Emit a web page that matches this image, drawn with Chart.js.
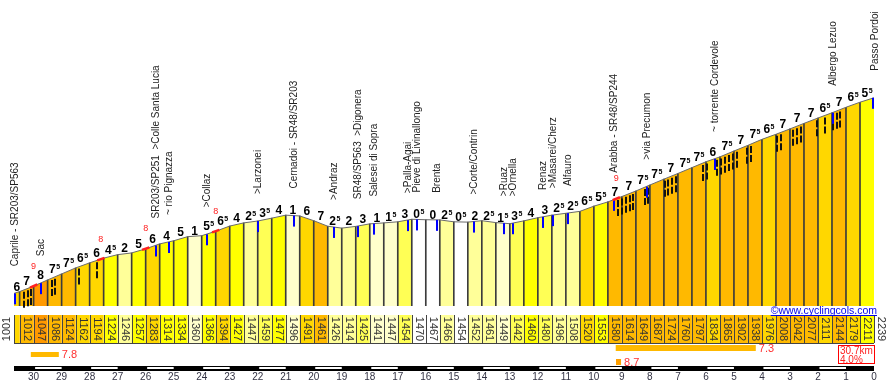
<!DOCTYPE html>
<html>
<head>
<meta charset="utf-8">
<script src="https://cdn.jsdelivr.net/npm/chart.js@4/dist/chart.umd.min.js"></script>
<style>
html,body{margin:0;padding:0;background:#fff;}
canvas{display:block;}
</style>
</head>
<body>
<canvas id="profile" width="889" height="383"></canvas>
<script>
// Caprile -> Passo Pordoi, km counted down to the top
const kmLeft=[30.7,30.5,30,29.5,29,28.5,28,27.5,27,26.5,26,25.5,25,24.5,24,23.5,23,22.5,22,21.5,21,20.5,20,19.5,19,18.5,18,17.5,17,16.5,16,15.5,15,14.5,14,13.5,13,12.5,12,11.5,11,10.5,10,9.5,9,8.5,8,7.5,7,6.5,6,5.5,5,4.5,4,3.5,3,2.5,2,1.5,1,0.5,0];
const altitudes=[1001,1012,1047,1086,1124,1162,1194,1224,1246,1257,1283,1314,1334,1360,1366,1394,1427,1447,1459,1477,1496,1491,1461,1426,1414,1425,1441,1447,1454,1470,1467,1466,1454,1452,1461,1449,1442,1460,1480,1496,1508,1520,1553,1580,1614,1649,1687,1724,1760,1797,1834,1865,1902,1938,1976,2008,2042,2077,2111,2144,2179,2211,2239];
// gradient shown above each stretch (x.5 drawn as small 5)
const grades=[6,7,8,7.5,7.5,6.5,6,4.5,2,5,6,4,5,1,5.5,6.5,4,2.5,3.5,4,1,6,7,2.5,2,3,1,1.5,3,0.5,0,2.5,0.5,2,2.5,1.5,3.5,4,3,2.5,2.5,6.5,5.5,7,7,7.5,7.5,7,7.5,7.5,6,7.5,7,7.5,6.5,7,7,7,6.5,7,6.5,5.5];

const placeNames=['Caprile - SR203/SP563','Sac','SR203/SP251  >Colle Santa Lucia','~ rio Pignazza','>Collaz','>Larzonei','Cernadoi - SR48/SR203','>Andraz','SR48/SP563  >Digonera','Salesei di Sopra','>Palla-Agai','Pieve di Livinallongo','Brenta','>Corte/Contrin','>Ruaz','>Ornella','Renaz','>Masarei/Cherz','Alfauro','Arabba - SR48/SP244','>via Precumon','~ torrente Cordevole','Albergo Lezuo','Passo Pordoi'];
const placeKm=[30.7,29.76,25.66,25.2,23.84,22.02,20.74,19.31,18.45,17.88,16.67,16.35,15.63,14.31,13.24,12.92,11.85,11.49,10.96,9.31,8.14,5.71,1.5,0];

const hairpinKm=[30.33,30.19,30.09,29.34,29.23,28.37,27.73,9.14,9.0,8.85,8.71,8.6,8.17,8.07,7.46,7.35,7.21,7.07,6.1,5.96,5.6,5.46,5.32,5.17,5.03,4.89,4.53,4.39,3.46,3.32,2.89,2.75,2.6,2.03,1.75,1.46,1.32,1.21];
const steepKm=[30.0,27.6,26.0,23.5,9.2];
const steepPct=[9,8,8,8,9];

// steepest 1km / 5km / 200m
const bestFrom=[30.1,9.22,9.21];
const bestTo=[29.1,4.22,9.03];
const bestPct=[7.8,7.3,8.7];

const totalKm=30.7, avgPct=4.0;
const kmTicks=[30,29,28,27,26,25,24,23,22,21,20,19,18,17,16,15,14,13,12,11,10,9,8,7,6,5,4,3,2,1,0];

const FONT='"Liberation Sans", Arial, sans-serif';

const gradeColor=g=>g>=8?'#ff9900':g>=7?'#ffb900':g>=6?'#ffd700':g>=4?'#ffff00':g>=3?'#ffff55':g>=2?'#ffff99':g>=1?'#ffffcc':'#ffffff';

const altAt=km=>{
    for(let i=0;i<kmLeft.length-1;i++){
        if(km<=kmLeft[i]&&km>=kmLeft[i+1]){
            const t=(kmLeft[i]-km)/(kmLeft[i]-kmLeft[i+1]);
            return altitudes[i]+t*(altitudes[i+1]-altitudes[i]);
        }
    }
    return altitudes[altitudes.length-1];
};

const profileExtras={
    id:'profileExtras',
    afterDatasetsDraw(chart){
        const {ctx,scales:{x,y}}=chart;
        const px=km=>x.getPixelForValue(km), py=a=>y.getPixelForValue(a);
        ctx.save();

        // hairpins
        ctx.strokeStyle='#111';ctx.lineWidth=2;ctx.setLineDash([7,2]);
        hairpinKm.forEach(k=>{
            const xx=Math.round(px(k)), top=py(altAt(k));
            ctx.beginPath();ctx.moveTo(xx,top+2);ctx.lineTo(xx,top+20);ctx.stroke();
        });
        ctx.setLineDash([]);

        // places: blue mark + vertical name
        placeNames.forEach((name,i)=>{
            const k=placeKm[i], xx=Math.min(Math.round(px(k))+1,873), top=py(altAt(k));
            ctx.fillStyle='#0000ff';
            ctx.fillRect(xx-1,top,2,11);
            ctx.save();
            ctx.translate(Math.round(px(k))+1,top-27);
            ctx.rotate(-Math.PI/2);
            ctx.font='10px '+FONT;ctx.fillStyle='#222';ctx.textAlign='left';ctx.textBaseline='middle';
            ctx.fillText(name,0,0);
            ctx.restore();
        });

        // steep bits in red
        steepKm.forEach((k,i)=>{
            ctx.strokeStyle='#ff2020';ctx.lineWidth=2.5;
            ctx.beginPath();ctx.moveTo(px(k+0.13),py(altAt(k+0.13)));ctx.lineTo(px(k-0.13),py(altAt(k-0.13)));ctx.stroke();
            ctx.font='9px '+FONT;ctx.fillStyle='#ff2020';ctx.textAlign='center';ctx.textBaseline='middle';
            ctx.fillText(String(steepPct[i]),px(k),py(altAt(k))-20);
        });

        // gradient labels
        grades.forEach((g,i)=>{
            const xm=(px(kmLeft[i])+px(kmLeft[i+1]))/2;
            const base=py(Math.max(altitudes[i],altitudes[i+1]))-1;
            const whole=String(Math.floor(g)), half=g%1!==0;
            ctx.textAlign='left';ctx.textBaseline='alphabetic';ctx.fillStyle='#000';
            ctx.font='bold 12px '+FONT;
            const w1=ctx.measureText(whole).width;
            ctx.font='bold 7px '+FONT;
            const w2=half?ctx.measureText('5').width+0.5:0;
            const sx=xm-(w1+w2)/2;
            ctx.font='bold 12px '+FONT;
            ctx.fillText(whole,sx,base);
            if(half){ctx.font='bold 7px '+FONT;ctx.fillText('5',sx+w1+0.5,base-4);}
        });

        // altitude cells
        const cTop=315, cBot=343;
        for(let i=0;i<grades.length;i++){
            const x0=px(kmLeft[i]), x1=px(kmLeft[i+1]);
            ctx.fillStyle=gradeColor(grades[i]);
            ctx.fillRect(x0,cTop,x1-x0,cBot-cTop);
        }
        ctx.strokeStyle='#444';ctx.lineWidth=1;
        ctx.beginPath();
        for(let i=0;i<kmLeft.length;i++){
            const xx=Math.round(px(kmLeft[i]))+0.5;
            ctx.moveTo(xx,cTop);ctx.lineTo(xx,cBot);
        }
        ctx.moveTo(px(kmLeft[0]),cBot+0.5);ctx.lineTo(px(0),cBot+0.5);
        ctx.stroke();
        ctx.font='11px '+FONT;ctx.fillStyle='#333';ctx.textAlign='center';ctx.textBaseline='middle';
        altitudes.forEach((a,i)=>{
            let cx, ang=Math.PI/2;
            if(i===0){cx=7;ang=-Math.PI/2;}
            else if(i===altitudes.length-1){cx=px(0)+7;}
            else cx=(px(kmLeft[i])+px(kmLeft[i+1]))/2;
            ctx.save();ctx.translate(cx,329);ctx.rotate(ang);ctx.fillText(String(a),0,0);ctx.restore();
        });

        // copyright
        ctx.font='10.5px '+FONT;ctx.fillStyle='#0000ee';ctx.textAlign='right';ctx.textBaseline='alphabetic';
        const cr='\u00a9www.cyclingcols.com', crw=ctx.measureText(cr).width;
        ctx.fillText(cr,877,314);
        ctx.fillRect(877-crw,315,crw,1);

        // steepest stretches
        const rowY=[352,345,359], rowH=[5,6,6];
        bestPct.forEach((v,i)=>{
            const x0=px(bestFrom[i]), x1=px(bestTo[i]);
            ctx.fillStyle=v>=8?'#ffa000':'#ffb900';
            ctx.fillRect(x0,rowY[i],x1-x0,rowH[i]);
            ctx.font='11px '+FONT;ctx.fillStyle='#ff3030';ctx.textAlign='left';ctx.textBaseline='middle';
            ctx.fillText(v.toFixed(1),x1+3,rowY[i]+rowH[i]/2+0.5);
        });

        // total box
        ctx.strokeStyle='#ff0000';ctx.lineWidth=1;
        ctx.strokeRect(838.5,345.5,36,18);
        ctx.font='10px '+FONT;ctx.fillStyle='#ff2020';ctx.textAlign='left';ctx.textBaseline='alphabetic';
        ctx.fillText(totalKm.toFixed(1)+'km',840,354);
        ctx.fillText(avgPct.toFixed(1)+'%',840,362.5);

        // km ruler
        ctx.fillStyle='#000';
        ctx.fillRect(px(totalKm),366,px(0)-px(totalKm),5);
        ctx.fillStyle='#fff';
        kmTicks.forEach(k=>{
            if(k%2===1) ctx.fillRect(px(k+1)+1.5,367,px(k)-px(k+1)-1.5,2);
        });
        ctx.font='10px '+FONT;ctx.fillStyle='#334';ctx.textAlign='center';ctx.textBaseline='middle';
        kmTicks.forEach(k=>ctx.fillText(String(k),px(k),377));

        ctx.restore();
    }
};

const profilePts=altitudes.map((a,i)=>({x:kmLeft[i],y:a}));
const dividerPts=profilePts.slice(1,-1);

new Chart(document.getElementById('profile'),{
    type:'line',
    data:{
        datasets:[{
            type:'line',
            data:profilePts,
            borderColor:'#6a6a6a',
            borderWidth:1,
            pointRadius:0,
            tension:0,
            fill:'start',
            backgroundColor:'#ffff00',
            segment:{backgroundColor:c=>gradeColor(grades[c.p0DataIndex])},
            order:0
        },{
            type:'bar',
            data:dividerPts,
            backgroundColor:'#3c3c3c',
            barThickness:1,
            grouped:false,
            order:1
        }]
    },
    options:{
        responsive:false,
        animation:false,
        devicePixelRatio:1,
        events:[],
        layout:{padding:{left:14,right:15,top:0,bottom:77}},
        scales:{
            x:{type:'linear',reverse:true,min:0,max:totalKm,offset:false,display:false},
            y:{type:'linear',min:921,max:2858,display:false}
        },
        plugins:{
            legend:{display:false},
            tooltip:{enabled:false},
            filler:{drawTime:'beforeDatasetsDraw'}
        }
    },
    plugins:[profileExtras]
});
</script>
</body>
</html>
